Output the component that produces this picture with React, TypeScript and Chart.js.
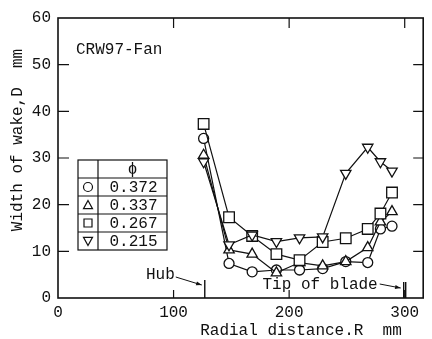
import React, { useEffect, useRef } from 'react';
import { Chart, registerables } from 'chart.js';

Chart.register(...registerables);

// ---- data ----
const radius = [126, 148, 168, 189, 209, 229, 249, 268, 279, 289];
const wake0372 = [34.2, 7.4, 5.6, 6.0, 6.0, 6.3, 7.8, 7.6, 14.8, 15.4];
const wake0337 = [30.6, 10.3, 9.4, 5.4, 7.6, 6.9, 7.8, 10.8, 16.3, 18.5];
const wake0267 = [37.3, 17.3, 13.3, 9.4, 8.1, 12.0, 12.8, 14.8, 18.1, 22.6];
const wake0215 = [29.2, 11.4, 13.5, 12.1, 12.9, 13.1, 26.7, 32.3, 29.2, 27.2];
const phiLabels = ['0.372', '0.337', '0.267', '0.215'];
const xTicks = [0, 100, 200, 300];
const yTicks = [0, 10, 20, 30, 40, 50, 60];
const hubR = 127;
const tipR = 300;

const FONT = "'Liberation Mono', 'DejaVu Sans Mono', monospace";
const INK = '#111';

type Marker = 'circle' | 'triangle' | 'rect' | 'down';
const markers: Marker[] = ['circle', 'triangle', 'rect', 'down'];

function drawMarker(ctx: CanvasRenderingContext2D, m: Marker, cx: number, cy: number, r: number) {
  ctx.beginPath();
  if (m === 'circle') {
    ctx.arc(cx, cy, r, 0, Math.PI * 2);
  } else if (m === 'rect') {
    ctx.rect(cx - r, cy - r, 2 * r, 2 * r);
  } else if (m === 'triangle') {
    ctx.moveTo(cx, cy - r);
    ctx.lineTo(cx + r, cy + r * 0.8);
    ctx.lineTo(cx - r, cy + r * 0.8);
    ctx.closePath();
  } else {
    ctx.moveTo(cx, cy + r);
    ctx.lineTo(cx + r, cy - r * 0.8);
    ctx.lineTo(cx - r, cy - r * 0.8);
    ctx.closePath();
  }
  ctx.fillStyle = '#fff';
  ctx.fill();
  ctx.stroke();
}

function arrow(ctx: CanvasRenderingContext2D, x1: number, y1: number, x2: number, y2: number) {
  ctx.beginPath();
  ctx.moveTo(x1, y1);
  ctx.lineTo(x2, y2);
  ctx.stroke();
  const ang = Math.atan2(y2 - y1, x2 - x1);
  const L = 6;
  ctx.beginPath();
  ctx.moveTo(x2, y2);
  ctx.lineTo(x2 - L * Math.cos(ang - 0.35), y2 - L * Math.sin(ang - 0.35));
  ctx.lineTo(x2 - L * Math.cos(ang + 0.35), y2 - L * Math.sin(ang + 0.35));
  ctx.closePath();
  ctx.fillStyle = INK;
  ctx.fill();
}

const framePlugin = {
  id: 'frameDecor',
  afterDraw(chart: any) {
    const { ctx, chartArea: a } = chart;
    const x = chart.scales.x;
    const y = chart.scales.y;
    ctx.save();
    ctx.strokeStyle = INK;
    ctx.fillStyle = INK;
    ctx.lineWidth = 1.6;
    ctx.strokeRect(a.left, a.top, a.right - a.left, a.bottom - a.top);

    // inward ticks
    ctx.lineWidth = 1.2;
    ctx.beginPath();
    xTicks.slice(1).forEach((t) => {
      const px = x.getPixelForValue(t);
      ctx.moveTo(px, a.top);
      ctx.lineTo(px, a.top + 10);
      ctx.moveTo(px, a.bottom);
      ctx.lineTo(px, a.bottom - 8);
    });
    yTicks.slice(1, -1).forEach((t) => {
      const py = y.getPixelForValue(t);
      ctx.moveTo(a.left, py);
      ctx.lineTo(a.left + 11, py);
      ctx.moveTo(a.right, py);
      ctx.lineTo(a.right - 10, py);
    });
    ctx.stroke();

    // hub and tip markers
    const hx = x.getPixelForValue(hubR);
    const tx = x.getPixelForValue(tipR);
    ctx.lineWidth = 1.4;
    ctx.beginPath();
    ctx.moveTo(hx, a.bottom);
    ctx.lineTo(hx, a.bottom - 18);
    ctx.moveTo(tx - 1, a.bottom);
    ctx.lineTo(tx - 1, a.bottom - 16);
    ctx.moveTo(tx + 1, a.bottom);
    ctx.lineTo(tx + 1, a.bottom - 16);
    ctx.stroke();

    ctx.font = `16px ${FONT}`;
    ctx.textBaseline = 'middle';
    ctx.textAlign = 'right';
    ctx.fillText('Hub', hx - 30, a.bottom - 23);
    ctx.lineWidth = 1;
    arrow(ctx, hx - 29, a.bottom - 21, hx - 3, a.bottom - 13);
    ctx.fillText('Tip of blade', tx - 27, a.bottom - 13);
    arrow(ctx, tx - 25, a.bottom - 14, tx - 4, a.bottom - 10);

    // label
    ctx.textAlign = 'left';
    ctx.fillText('CRW97-Fan', a.left + 18, 50);

    // axis titles
    ctx.textAlign = 'center';
    ctx.fillText('Radial distance.R  mm', 301, 331);
    ctx.save();
    ctx.translate(18, 140);
    ctx.rotate(-Math.PI / 2);
    ctx.fillText('Width of wake,D  mm', 0, 0);
    ctx.restore();

    // legend table
    const L = 78, R = 167, D = 98, T = 160, rh = 18;
    ctx.lineWidth = 1.2;
    ctx.strokeStyle = INK;
    ctx.strokeRect(L, T, R - L, rh * 5);
    ctx.beginPath();
    ctx.moveTo(D, T);
    ctx.lineTo(D, T + rh * 5);
    for (let i = 1; i < 5; i++) {
      ctx.moveTo(L, T + rh * i);
      ctx.lineTo(R, T + rh * i);
    }
    ctx.stroke();
    ctx.textAlign = 'center';
    ctx.fillStyle = INK;
    ctx.fillText('ϕ', (D + R) / 2, T + rh / 2 + 1);
    phiLabels.forEach((lab, i) => {
      const cy = T + rh * (i + 1) + rh / 2;
      ctx.fillStyle = INK;
      ctx.fillText(lab, (D + R) / 2 + 1, cy + 1);
      ctx.lineWidth = 1.2;
      drawMarker(ctx, markers[i], (L + D) / 2, cy, markers[i] === 'rect' ? 4 : 4.5);
    });
    ctx.restore();
  },
};

function series(vals: number[], style: string, rot: number, r: number) {
  return {
    data: radius.map((rv, i) => ({ x: rv, y: vals[i] })),
    borderColor: INK,
    borderWidth: 1.2,
    backgroundColor: '#fff',
    pointStyle: style,
    pointRotation: rot,
    pointRadius: r,
    pointBorderWidth: 1.3,
    pointBackgroundColor: '#fff',
    pointBorderColor: INK,
    fill: false,
    tension: 0,
  };
}

export default function App() {
  const ref = useRef<HTMLCanvasElement>(null);
  useEffect(() => {
    if (!ref.current) return;
    const chart = new Chart(ref.current, {
      type: 'line',
      data: {
        datasets: [
          series(wake0215, 'triangle', 180, 6),
          series(wake0267, 'rect', 0, 7.5),
          series(wake0337, 'triangle', 0, 6),
          series(wake0372, 'circle', 0, 5),
        ] as any,
      },
      options: {
        animation: false,
        responsive: false,
        devicePixelRatio: 1,
        layout: { padding: { left: 0, right: 4, top: 18, bottom: 0 } },
        plugins: { legend: { display: false }, tooltip: { enabled: false } },
        scales: {
          x: {
            type: 'linear',
            min: 0,
            max: 316,
            grid: { display: false, drawTicks: false },
            border: { display: false },
            afterBuildTicks: (s: any) => {
              s.ticks = xTicks.map((v) => ({ value: v }));
            },
            afterFit: (s: any) => {
              s.height = 41;
            },
            ticks: {
              color: INK,
              padding: 5,
              maxRotation: 0,
              autoSkip: false,
              font: { family: FONT, size: 16 },
            },
          },
          y: {
            type: 'linear',
            min: 0,
            max: 60,
            grid: { display: false, drawTicks: false },
            border: { display: false },
            afterBuildTicks: (s: any) => {
              s.ticks = yTicks.map((v) => ({ value: v }));
            },
            afterFit: (s: any) => {
              s.width = 58;
            },
            ticks: {
              color: INK,
              padding: 7,
              autoSkip: false,
              font: { family: FONT, size: 16 },
            },
          },
        },
      } as any,
      plugins: [framePlugin],
    });
    return () => chart.destroy();
  }, []);
  return (
    <div style={{ position: 'absolute', left: 0, top: 0, width: 432, height: 339, background: '#fff' }}>
      <canvas ref={ref} width={432} height={339} />
    </div>
  );
}
